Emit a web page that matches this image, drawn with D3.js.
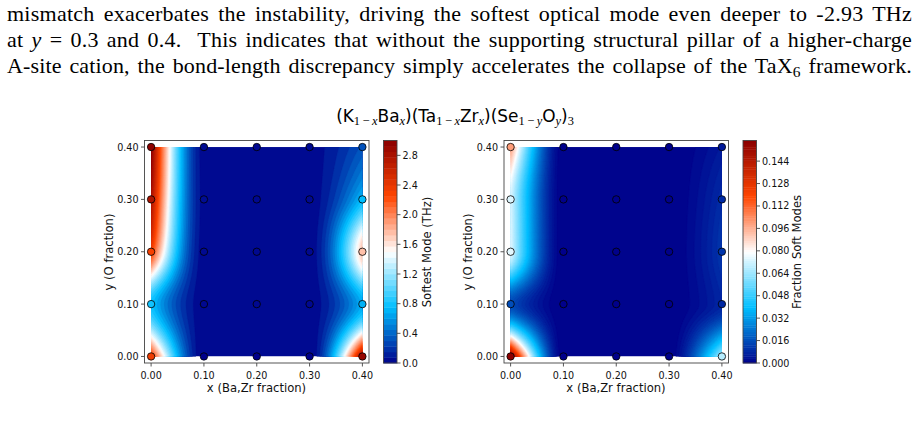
<!DOCTYPE html>
<html><head><meta charset="utf-8">
<script src="https://cdn.jsdelivr.net/npm/d3@7"></script>
<style>body{margin:0;background:#fff}svg{display:block}</style>
</head><body>
<svg id="c" width="919" height="435"></svg>
<script>
// ---------- data ----------
const xFractions = [0, 0.1, 0.2, 0.3, 0.4];   // Ba,Zr fraction
const yFractions = [0, 0.1, 0.2, 0.3, 0.4];   // O fraction
// rows: y = 0.0 ... 0.4 ; columns: x = 0.0 ... 0.4
const softestMode = [
  [2.35, 0.00, 0.00, 0.00, 2.92],
  [0.80, 0.03, 0.03, 0.03, 0.70],
  [2.30, 0.04, 0.03, 0.03, 1.75],
  [2.78, 0.05, 0.03, 0.03, 0.75],
  [2.98, 0.04, 0.03, 0.04, 0.32]
];
const fractionSoft = [
  [0.1587, 0.000, 0.000, 0.000, 0.068],
  [0.016,  0.000, 0.000, 0.000, 0.008],
  [0.075,  0.000, 0.000, 0.000, 0.011],
  [0.074,  0.000, 0.000, 0.000, 0.009],
  [0.100,  0.000, 0.000, 0.000, 0.005]
];
const axisTicks = [0, 0.1, 0.2, 0.3, 0.4];
const softTicks = [0, 0.4, 0.8, 1.2, 1.6, 2.0, 2.4, 2.8];
const fracTicks = [0, 0.016, 0.032, 0.048, 0.064, 0.080, 0.096, 0.112, 0.128, 0.144];
const titleParts = [
  ["(K"], ["1\u2009\u2212\u2009", "x"], ["Ba"], ["", "x"], [")(Ta"], ["1\u2009\u2212\u2009", "x"], ["Zr"], ["", "x"],
  [")(Se"], ["1\u2009\u2212\u2009", "y"], ["O"], ["", "y"], [")"], ["3", ""]
];
const paraLines = [
  [{t: "mismatch exacerbates the instability, driving the softest optical mode even deeper to -2.93 THz"}],
  [{t: "at "}, {t: "y", i: true}, {t: " = 0.3 and 0.4.  This indicates that without the supporting structural pillar of a higher-charge"}],
  [{t: "A-site cation, the bond-length discrepancy simply accelerates the collapse of the TaX"}, {t: "6", sub: true}, {t: " framework."}]
];

// ---------- helpers ----------
const svg = d3.select("#c");
const cmap = d3.scaleLinear()
  .domain([0, 0.25, 0.5, 0.75, 1])
  .range(["#00008b", "#00bfff", "#ffffff", "#ff4500", "#8b0000"])
  .interpolate(d3.interpolateRgb).clamp(true);

function monoSlopes(xs, ys) {
  const n = xs.length, h = [], s = [], m = new Array(n);
  for (let i = 0; i < n - 1; i++) { h[i] = xs[i + 1] - xs[i]; s[i] = (ys[i + 1] - ys[i]) / h[i]; }
  for (let i = 1; i < n - 1; i++) {
    const p = (s[i - 1] * h[i] + s[i] * h[i - 1]) / (h[i - 1] + h[i]);
    m[i] = (Math.sign(s[i - 1]) + Math.sign(s[i])) * Math.min(Math.abs(s[i - 1]), Math.abs(s[i]), 0.5 * Math.abs(p)) || 0;
  }
  function endSlope(sv, mn) {
    let e = (3 * sv - mn) / 2;
    if (Math.sign(e) !== Math.sign(sv)) e = 0;
    if (Math.abs(e) > 3 * Math.abs(sv)) e = 3 * sv;
    return e;
  }
  m[0] = endSlope(s[0], m[1]);
  m[n - 1] = endSlope(s[n - 2], m[n - 2]);
  return m;
}
function hermite(xs, ys, m, x) {
  let i = 0;
  while (i < xs.length - 2 && x > xs[i + 1]) i++;
  const h = xs[i + 1] - xs[i], t = Math.max(0, Math.min(1, (x - xs[i]) / h));
  const t2 = t * t, t3 = t2 * t;
  return (2 * t3 - 3 * t2 + 1) * ys[i] + (t3 - 2 * t2 + t) * h * m[i] +
         (-2 * t3 + 3 * t2) * ys[i + 1] + (t3 - t2) * h * m[i + 1];
}

// ---------- paragraph ----------
paraLines.forEach((segs, li) => {
  const t = svg.append("text").attr("x", 7).attr("y", 20.7 + li * 26)
    .style("font-family", "'Liberation Serif', serif").style("font-size", "22px")
    .style("white-space", "pre").attr("fill", "#000");
  let shifted = false;
  segs.forEach(s => {
    const ts = t.append("tspan").text(s.t);
    if (s.i) ts.style("font-style", "italic");
    if (s.sub) { ts.attr("dy", 4).style("font-size", "15.5px"); }
    else if (shifted) ts.attr("dy", -4);
    shifted = !!s.sub;
  });
  const target = 905;
  const full = segs.map(s => s.t).join("");
  const nSp = (full.match(/ /g) || []).length;
  const L = t.node().getComputedTextLength();
  t.style("letter-spacing", (0.35 * (target - L) / full.length) + "px");
  const L2 = t.node().getComputedTextLength();
  t.style("word-spacing", ((target - L2) / nSp) + "px");
});

// ---------- title ----------
{
  const baseMain = 15, baseSub = 11;
  const t = svg.append("text").attr("x", 455).attr("y", 121.5).attr("text-anchor", "middle")
    .style("font-family", "'DejaVu Sans', sans-serif").style("font-size", baseMain + "px").attr("fill", "#000");
  let low = false;
  const subs = [];
  titleParts.forEach(p => {
    if (p.length === 1) {
      const ts = t.append("tspan").text(p[0]);
      if (low) ts.attr("dy", -3.5);
      low = false;
    } else {
      let first = true;
      const addSub = (txt, ital) => {
        if (!txt) return;
        const ts = t.append("tspan").text(txt)
          .style("font-family", "'Liberation Serif', serif").style("font-size", baseSub + "px");
        subs.push(ts);
        if (ital) ts.style("font-style", "italic");
        if (first && !low) ts.attr("dy", 3.5);
        first = false; low = true;
      };
      addSub(p[0], false);
      addSub(p[1], true);
    }
  });
  const W = t.node().getComputedTextLength();
  const k = 238 / W;
  t.style("font-size", (baseMain * k) + "px");
  subs.forEach(s => s.style("font-size", (baseSub * k) + "px"));
}

// ---------- panels ----------
function panel(cfg) {
  const g = svg.append("g");
  const sx = d3.scaleLinear().domain([-0.0125, 0.4125]).range([cfg.left, cfg.left + 224.5]);
  const sy = d3.scaleLinear().domain([-0.0125, 0.4125]).range([363, 140.5]);
  const N = cfg.bands, vmax = cfg.vmax;
  const levels = d3.range(N + 1).map(i => i * vmax / N);
  const bandColor = k => cmap((k + 0.5) / N);

  // interpolated field from the 5x5 values
  const nx = 240, ny = 240;
  const field = new Float64Array(nx * ny);
  const rowSlopes = cfg.values.map(row => monoSlopes(xFractions, row));
  for (let ix = 0; ix < nx; ix++) {
    const xv = ix / (nx - 1) * 0.4;
    const col = cfg.values.map((row, r) => hermite(xFractions, row, rowSlopes[r], xv));
    const cm = monoSlopes(yFractions, col);
    for (let iy = 0; iy < ny; iy++) {
      const yv = iy / (ny - 1) * 0.4;
      field[iy * nx + ix] = Math.max(0, Math.min(vmax * 0.99999, hermite(yFractions, col, cm, yv)));
    }
  }
  const px = c => sx((c - 0.5) / (nx - 1) * 0.4);
  const py = c => sy((c - 0.5) / (ny - 1) * 0.4);
  const clipId = "clip" + Math.round(cfg.left);
  svg.append("clipPath").attr("id", clipId).append("rect")
    .attr("x", sx(0)).attr("y", sy(0.4)).attr("width", sx(0.4) - sx(0)).attr("height", sy(0) - sy(0.4));
  const cg = g.append("g").attr("clip-path", `url(#${clipId})`);
  cg.append("rect").attr("x", sx(0)).attr("y", sy(0.4)).attr("width", sx(0.4) - sx(0))
    .attr("height", sy(0) - sy(0.4)).attr("fill", bandColor(0));
  const contours = d3.contours().size([nx, ny]).smooth(true).thresholds(levels.slice(1, N))(field);
  contours.forEach((c, k) => {
    let d = "";
    c.coordinates.forEach(poly => poly.forEach(ring => {
      d += "M" + ring.map(p => px(p[0]).toFixed(2) + "," + py(p[1]).toFixed(2)).join("L") + "Z";
    }));
    if (d) cg.append("path").attr("d", d).attr("fill", bandColor(k + 1))
      .attr("stroke", bandColor(k + 1)).attr("stroke-width", 0.3).attr("fill-rule", "evenodd");
  });

  // frame
  g.append("rect").attr("x", cfg.left).attr("y", 140.5).attr("width", 224.5).attr("height", 222.5)
    .attr("fill", "none").attr("stroke", "#444").attr("stroke-width", 0.9);
  const fmt = d3.format(".2f");
  axisTicks.forEach(v => {
    g.append("line").attr("x1", sx(v)).attr("x2", sx(v)).attr("y1", 363).attr("y2", 366.5)
      .attr("stroke", "#444").attr("stroke-width", 0.9);
    g.append("text").attr("x", sx(v)).attr("y", 378.5).attr("text-anchor", "middle")
      .style("font-family", "'DejaVu Sans', sans-serif").style("font-size", "9.6px").attr("fill", "#111").text(fmt(v));
    g.append("line").attr("x1", cfg.left).attr("x2", cfg.left - 3.5).attr("y1", sy(v)).attr("y2", sy(v))
      .attr("stroke", "#444").attr("stroke-width", 0.9);
    g.append("text").attr("x", cfg.left - 6).attr("y", sy(v) + 3.5).attr("text-anchor", "end")
      .style("font-family", "'DejaVu Sans', sans-serif").style("font-size", "9.6px").attr("fill", "#111").text(fmt(v));
  });
  g.append("text").attr("x", cfg.left + 112).attr("y", 391.5).attr("text-anchor", "middle")
    .style("font-family", "'DejaVu Sans', sans-serif").style("font-size", "11.6px").attr("fill", "#111")
    .text("x (Ba,Zr fraction)");
  g.append("text").attr("transform", `translate(${cfg.left - 32},252) rotate(-90)`).attr("text-anchor", "middle")
    .style("font-family", "'DejaVu Sans', sans-serif").style("font-size", "11.6px").attr("fill", "#111")
    .text("y (O fraction)");

  // points
  cfg.values.forEach((row, r) => row.forEach((v, c) => {
    g.append("circle").attr("cx", sx(xFractions[c])).attr("cy", sy(yFractions[r])).attr("r", 3.7)
      .attr("fill", cmap(v / vmax)).attr("stroke", "#000").attr("stroke-width", 0.8);
  }));

  // colorbar
  const cb = svg.append("g");
  const cy = d3.scaleLinear().domain([0, vmax]).range([363, 140.5]);
  d3.range(N).forEach(k => {
    cb.append("rect").attr("x", cfg.cbar).attr("width", 13.5)
      .attr("y", cy(levels[k + 1])).attr("height", cy(levels[k]) - cy(levels[k + 1]) + 0.4)
      .attr("fill", bandColor(k));
  });
  cb.append("rect").attr("x", cfg.cbar).attr("y", 140.5).attr("width", 13.5).attr("height", 222.5)
    .attr("fill", "none").attr("stroke", "#444").attr("stroke-width", 0.9);
  cfg.ticks.forEach(v => {
    cb.append("line").attr("x1", cfg.cbar + 13.5).attr("x2", cfg.cbar + 17).attr("y1", cy(v)).attr("y2", cy(v))
      .attr("stroke", "#444").attr("stroke-width", 0.9);
    cb.append("text").attr("x", cfg.cbar + 19).attr("y", cy(v) + 3.5)
      .style("font-family", "'DejaVu Sans', sans-serif").style("font-size", "9.6px").attr("fill", "#111")
      .text(cfg.tickFmt(v));
  });
  cb.append("text").attr("transform", `translate(${cfg.cbarLabel},252) rotate(-90)`).attr("text-anchor", "middle")
    .style("font-family", "'DejaVu Sans', sans-serif").style("font-size", "11.6px").attr("fill", "#111")
    .text(cfg.label);
}

panel({left: 144.5, values: softestMode, vmax: 3.0, bands: 40, ticks: softTicks,
       tickFmt: d3.format(".1f"), cbar: 383.5, cbarLabel: 431, label: "Softest Mode (THz)"});
panel({left: 504, values: fractionSoft, vmax: 0.1587, bands: 100, ticks: fracTicks,
       tickFmt: d3.format(".3f"), cbar: 743, cbarLabel: 801, label: "Fraction Soft Modes"});
</script>
</body></html>
